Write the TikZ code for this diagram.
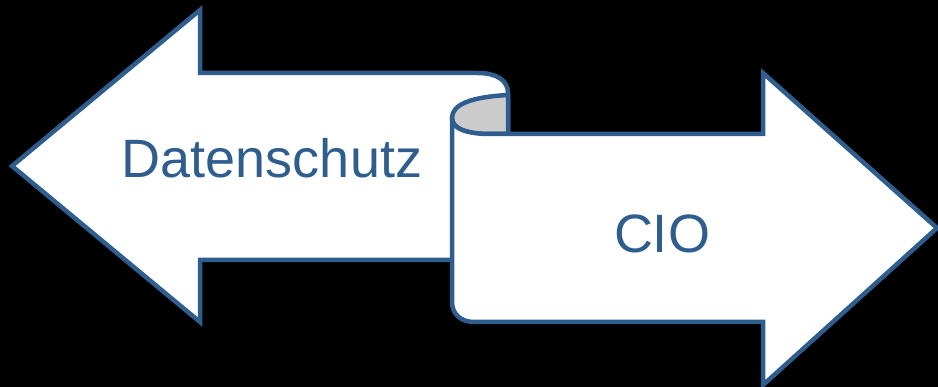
\documentclass[tikz,border=0pt]{standalone}
\usepackage{fontspec}
\setmainfont{Liberation Sans}
\definecolor{edgeblue}{RGB}{47,94,142}
\definecolor{curlgrey}{RGB}{204,204,204}
\begin{document}
\begin{tikzpicture}[x=1pt,y=-1pt,
  arrowshape/.style={fill=white,draw=edgeblue,line width=4.5pt,line join=miter},
  label/.style={text=edgeblue,font=\fontsize{54}{60}\selectfont,inner sep=0pt}]
\useasboundingbox (0,0) rectangle (938,387);
\fill[black] (0,0) rectangle (938,387);
% left arrow
\draw[arrowshape] (508,93) -- (508,260) -- (200,260) -- (200,322) -- (12,166) -- (200,10) -- (200,73) -- (478,73)
  .. controls (496,73) and (508,80) .. (508,93);
% grey curl inside
\draw[fill=curlgrey,draw=edgeblue,line width=4.5pt] (508,95) .. controls (472,97) and (452,104) .. (452,118)
  .. controls (452,128) and (465,134) .. (490,134) -- (508,134) -- cycle;
% right arrow
\draw[arrowshape] (452,118) .. controls (452,128) and (465,134) .. (490,134) -- (763,134) -- (763,73) -- (937,228)
  -- (763,385) -- (763,322) -- (474,322) .. controls (461,322) and (452,314) .. (452,302) -- cycle;
\node[label,anchor=base] (ds) at (272,178) {Datenschutz};
\node[label,anchor=base] (cio) at (662,253) {CIO};
\end{tikzpicture}
\end{document}
